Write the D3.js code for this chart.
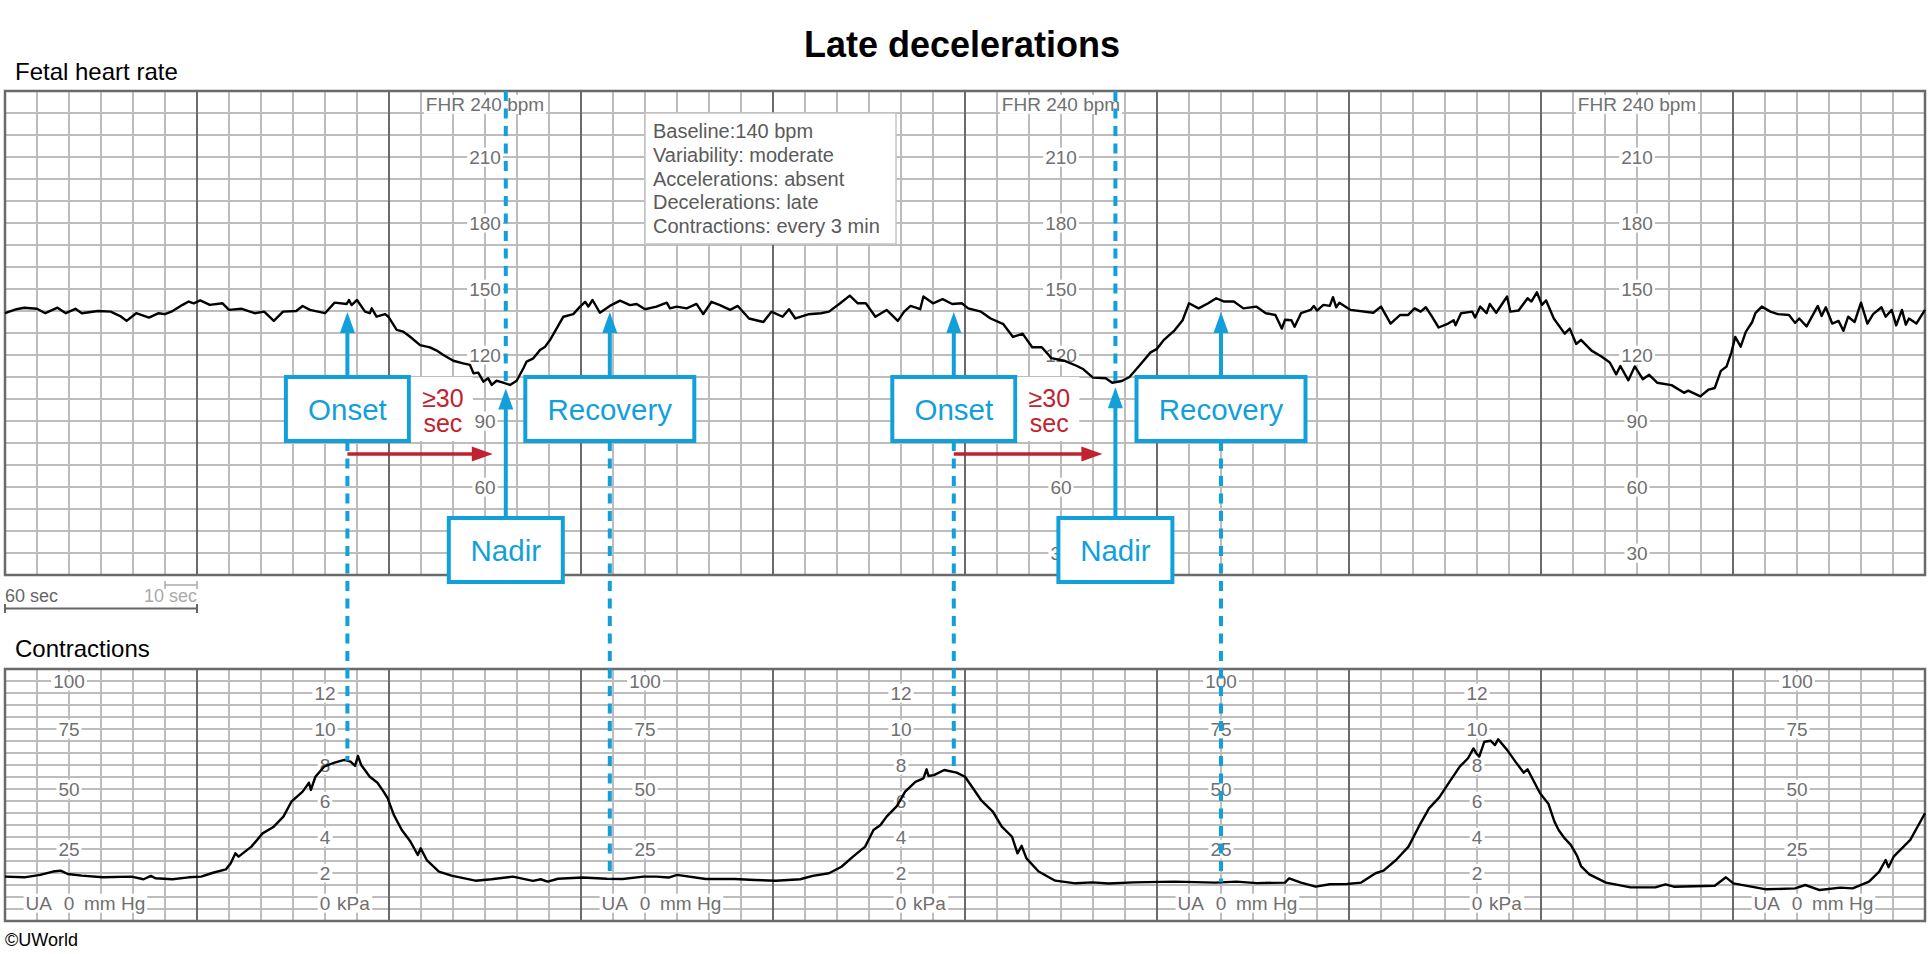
<!DOCTYPE html>
<html>
<head>
<meta charset="utf-8">
<script src="https://cdn.jsdelivr.net/npm/d3@7"></script>
<style>
  body { margin: 0; background: #fff; }
  text { font-family: "Liberation Sans", Arial, Helvetica, sans-serif; }
</style>
</head>
<body>
<div id="chart"></div>
<script>
// ---- data (time in seconds from the left edge) ----
const fhrSec = [0, 3.6, 6, 10, 12.6, 16.4, 19, 22, 24, 29, 33, 36, 38, 41, 45, 48, 50, 52, 55.5, 57.4, 59, 61, 64, 68, 70, 74, 78, 81, 84, 86.9,
  91, 93, 95.3, 100, 103, 106.8, 107.5, 108.3, 110, 112.5, 114, 114.6, 116.1, 118.8, 119.8, 122.4, 124.5, 126.6, 129.7, 132.8, 134.9, 137,
  140.1, 143.2, 145.3, 146.4, 147.9, 149.5, 151, 152.1, 153.6, 155.7, 157.8, 159.9, 162, 163, 165.1, 167.2, 168.8, 170.3, 172.4, 174.5,
  177.6, 179.7, 181.3, 182.3, 183.6, 185.9, 189, 192.2, 195.3, 197.4, 200, 203.6, 206.8, 207.8, 209.9, 213, 216.1, 218.2, 220.8, 223.4,
  226.6, 229, 232.5, 237, 239.5, 243, 245, 247, 251, 255, 257.5, 261, 264, 266.5, 269, 272, 275.5, 279, 281, 283, 286, 287, 290, 293,
  296, 299, 301, 305, 308, 312, 315, 318, 321, 324, 327, 331, 335, 337, 340, 344, 346, 349, 351.4, 354, 358, 360, 362, 365.5, 368, 370,
  373, 376, 378.5, 381, 384, 387, 391, 394, 397, 399, 400, 402, 403, 405, 408, 409, 410, 412, 414, 415, 416, 417, 420.5, 427.6, 430, 433,
  436, 438.5, 440.5, 442.4, 444, 445.6, 448, 451, 452.7, 453.3, 455, 458.5, 459.4, 461, 463, 464, 466, 469.4, 470.4, 473, 475.8, 477,
  478.7, 480.3, 481.6, 484, 487.4, 489, 491, 492.5, 495.8, 499, 501.5, 503.5, 504.8, 507.3, 509.3, 511.8, 513.8, 516.3, 520.8, 524.7, 526,
  529.8, 532.4, 534.3, 536.2, 538, 539.5, 540.7, 542.4, 544, 546, 547, 549, 551.7, 554, 557.5, 559.4, 560.7, 563, 566.5, 567.7, 569, 571,
  573, 574.5, 576, 578, 580, 582, 583.8, 586.4, 587.7, 589.6, 591, 592.8, 594, 595, 597.3, 600];
const fhrBpm = [139, 140.8, 141.5, 141, 139, 141.5, 139, 141, 139, 140, 139.7, 137.7, 135.5, 139, 137, 139, 138.6, 139.7, 142.8, 144.3, 143.5,
  144.8, 142.8, 143.5, 140.5, 141, 139, 139.7, 135.5, 139.7, 140, 142.3, 140.5, 139, 143.8, 143.2, 145, 142.7, 145, 139.7, 139, 141.2,
  137.4, 138.6, 137.4, 131.4, 130.6, 128.3, 124.5, 123.5, 122, 120, 117.4, 116.2, 115.5, 111.7, 112, 107.9, 109.4, 106.4, 108.3, 107.4,
  106.4, 108.3, 114, 117, 118.5, 122.3, 123.8, 126.8, 132.1, 137.4, 138.6, 142, 144.2, 142, 145, 139.2, 142.3, 144.7, 142.7, 143.2, 140.8,
  142, 143.8, 141.2, 142, 141.2, 143.2, 138.6, 144.2, 142.7, 140.5, 142.3, 136.6, 135, 139.7, 137.4, 140.8, 136.6, 138.5, 139, 139.7,
  143.5, 147, 143.5, 143.5, 137.4, 140.5, 135.5, 139.7, 142.3, 140.8, 146.6, 143.5, 145.4, 143.2, 143.5, 141.2, 139.7, 136.6, 134, 128.2,
  129.7, 123.5, 123.5, 118.6, 117.4, 115, 113.5, 109.7, 109.4, 107.4, 108.2, 110, 114.3, 121.2, 122.8, 126.6, 131.2, 135.8, 143.5, 141.2,
  143.5, 145.8, 144.3, 144.3, 141.2, 142, 139, 138.2, 132, 136, 135.8, 132.8, 139, 140.5, 142.3, 140.2, 142.8, 142.3, 146.3, 141.7, 143.8,
  140.5, 139.2, 142, 134.3, 138.2, 138.2, 141.2, 139.7, 141.7, 138.2, 132.5, 134.3, 135.8, 133.5, 139, 139.7, 137, 142, 139, 143.2, 139.2,
  146.6, 139.7, 140.2, 145.8, 144.3, 148.5, 142.8, 144.8, 136.6, 129.7, 132, 125, 126.9, 122, 119.2, 116.6, 111.2, 115, 108.5, 114.8, 109,
  111, 107.4, 106.3, 102.8, 103.8, 101.2, 104.3, 105, 112.8, 114.8, 121.2, 128.2, 123.8, 130.5, 135, 139, 142, 139.7, 138.6, 138.2, 134.6,
  136.6, 133, 142.3, 137.7, 141.7, 134.3, 135.5, 131, 137.4, 135, 143.8, 134.3, 138.6, 141.7, 137.4, 140.5, 133.5, 140.5, 133.8, 136.6,
  134.3, 140.5];

const uaSec = [0, 6, 11, 15, 17.4, 19.6, 24, 30.5, 39.5, 43.3, 45.6, 47, 52.3, 57.4, 61.3, 65, 69, 70.5, 72, 73, 77, 80.5, 84, 87, 89.5, 93,
  95, 95.6, 97, 99.7, 103, 106, 108, 109.4, 110.3, 111.3, 114, 116.4, 118.3, 119.6, 121.5, 124, 126.7, 129, 129.9, 131.8, 135.6, 139.5,
  147, 152, 158.7, 165, 167.4, 169.6, 172.8, 180.5, 188, 193, 199.5, 203.5, 207.4, 210, 219, 228, 234.4, 240.8, 248.5, 252.4, 257.5, 261.4,
  265, 268.8, 271.4, 273.6, 275.5, 278.7, 281.3, 284.5, 287, 288, 288.6, 290.3, 293.5, 297.4, 300, 302.5, 305, 308.7, 311.5, 314.7, 316.4,
  317.7, 319.2, 323, 328.2, 334.6, 339.8, 344.9, 352.6, 365.5, 378.3, 384.8, 391.2, 400, 401.3, 405, 409.6, 414, 419.3, 423.8, 428.3,
  430.8, 434.7, 438.6, 441.8, 445, 448.2, 451.4, 454.6, 457.2, 458.9, 459.8, 460.7, 462.3, 464.3, 465.6, 466.6, 469.4, 472, 474.6, 475.8,
  477.1, 479.7, 482.3, 484.2, 485.5, 487.4, 489.3, 491.3, 492.5, 495.1, 500.3, 508, 515.7, 518.9, 521.5, 534.3, 537.8, 540.1, 550.4, 559.4,
  562.6, 567.1, 573.5, 577.4, 582.5, 585.7, 587.7, 588.6, 590.2, 595.4, 600];
const uaMmHg = [13.5, 13.2, 14.2, 15.6, 16, 14.6, 13.9, 13.2, 13.5, 12.4, 13.8, 12.8, 12.4, 13.2, 13.5, 15.1, 16.5, 19, 23.2, 21.8, 26, 31.5,
  34.3, 38.5, 44.7, 48.9, 52.6, 49.6, 55.1, 59.3, 61, 62.1, 61.4, 59.6, 63.8, 60, 55.1, 52.6, 48.9, 46.1, 39.2, 32.9, 28.1, 22.5, 25.3,
  20.4, 15.6, 13.9, 11.8, 12.4, 13.5, 11.7, 12.4, 11.4, 12.6, 13.1, 12.6, 12.5, 13.5, 13.5, 13.1, 14.2, 12.5, 12.5, 12.1, 11.8, 12.4, 13.8,
  14.9, 17.6, 21.8, 26, 32.9, 35, 38.5, 42.9, 48.9, 53, 54.4, 58.2, 55.4, 55.8, 57.9, 56.8, 55.1, 50.3, 45.4, 40.6, 34.3, 30.1, 23.2,
  26.3, 21.1, 15.6, 11.8, 10.7, 11.1, 10.6, 11.1, 11.4, 11, 11.4, 10.8, 11, 12.8, 11, 9.3, 10.3, 10.4, 11, 14.9, 16, 20.4, 26, 34.3, 41.9,
  46.5, 53, 59.3, 62.8, 66.9, 64.8, 63.5, 69.7, 70.1, 68.3, 70.7, 66.3, 61.4, 56.8, 58.2, 54.9, 48.2, 43.9, 36.4, 32.9, 29.4, 26.7, 22.1,
  17.9, 14.4, 11, 9, 9, 10.3, 9.3, 9.7, 13.2, 10.7, 8.2, 8.6, 10, 7.9, 8.9, 8.6, 11.4, 15.6, 20.4, 17.4, 21.8, 28.8, 39.9];

// tick labels and where along the strip they are printed
const fhrTickLabels = [210, 180, 150, 120, 90, 60, 30];
const fhrLabelSec = [150, 330, 510];
const mmHgTickLabels = [100, 75, 50, 25];
const mmHgLabelSec = [20, 200, 380, 560];
const kPaTickLabels = [12, 10, 8, 6, 4, 2];
const kPaLabelSec = [100, 280, 460];

// annotated decelerations
const onsetSec = [107, 296.5];
const nadirSec = [156.5, 347];
const recoverySec = [189, 380];

const summaryLines = ["Baseline:140 bpm", "Variability: moderate", "Accelerations: absent",
  "Decelerations: late", "Contractions: every 3 min"];

// ---- layout ----
const WIDTH = 1930, HEIGHT = 954;
const LEFT = 5, RIGHT = 1925;
const FHR_TOP = 91, FHR_BOTTOM = 575;
const UA_TOP = 669, UA_BOTTOM = 921;
const BLUE = "#12a0db", RED = "#c1222f";
const MINOR = "#bdbdbd", MAJOR = "#6a6a6a", LABEL = "#707070";

const svg = d3.select("#chart").append("svg")
  .attr("width", WIDTH).attr("height", HEIGHT);

const x = d3.scaleLinear().domain([0, 600]).range([LEFT, RIGHT]);
const yF = d3.scaleLinear().domain([20, 240]).range([FHR_BOTTOM, FHR_TOP]);
const yU = d3.scaleLinear().domain([-5, 100]).range([UA_BOTTOM, UA_TOP]);

const fhr = fhrSec.map((t, i) => ({ t, v: fhrBpm[i] }));
const ua = uaSec.map((t, i) => ({ t, v: uaMmHg[i] }));

function valueAt(data, t) {
  const i = d3.bisector(d => d.t).left(data, t);
  if (i <= 0) return data[0].v;
  if (i >= data.length) return data[data.length - 1].v;
  const a = data[i - 1], b = data[i];
  return a.v + (b.v - a.v) * (t - a.t) / (b.t - a.t);
}

// ---- paper grid ----
function drawGrid(yScale, hValues, top, bottom) {
  const g = svg.append("g");
  const secs = d3.range(0, 601, 10);
  g.selectAll("line.h").data(hValues).join("line")
    .attr("x1", LEFT).attr("x2", RIGHT)
    .attr("y1", d => yScale(d)).attr("y2", d => yScale(d))
    .attr("stroke", MINOR).attr("stroke-width", 2);
  g.selectAll("line.vmin").data(secs.filter(s => s % 60 !== 0)).join("line")
    .attr("x1", d => x(d)).attr("x2", d => x(d))
    .attr("y1", top).attr("y2", bottom)
    .attr("stroke", MINOR).attr("stroke-width", 2);
  g.selectAll("line.vmaj").data(secs.filter(s => s % 60 === 0)).join("line")
    .attr("x1", d => x(d)).attr("x2", d => x(d))
    .attr("y1", top).attr("y2", bottom)
    .attr("stroke", MAJOR).attr("stroke-width", 2);
  g.append("rect")
    .attr("x", LEFT).attr("y", top)
    .attr("width", RIGHT - LEFT).attr("height", bottom - top)
    .attr("fill", "none").attr("stroke", MAJOR).attr("stroke-width", 2.5);
}
drawGrid(yF, d3.range(20, 241, 10), FHR_TOP, FHR_BOTTOM);
drawGrid(yU, d3.range(-5, 101, 5), UA_TOP, UA_BOTTOM);

// labels printed on the paper, with a white patch behind
function paperLabel(parts, cy, size, color) {
  const g = svg.append("g");
  parts.forEach(p => {
    g.append("text")
      .attr("x", p.x).attr("y", cy).attr("dy", "0.35em")
      .attr("text-anchor", p.anchor || "middle")
      .attr("font-size", size).attr("fill", color)
      .text(p.text);
  });
  const bb = g.node().getBBox();
  g.insert("rect", "text")
    .attr("x", bb.x - 2).attr("y", bb.y + 1)
    .attr("width", bb.width + 4).attr("height", bb.height - 2)
    .attr("fill", "#fff");
}

fhrLabelSec.forEach(s => {
  paperLabel([{ x: x(s), text: "FHR 240 bpm" }], yF(234), 19, LABEL);
  fhrTickLabels.forEach(v => paperLabel([{ x: x(s), text: v }], yF(v), 19, LABEL));
});
mmHgLabelSec.forEach(s => {
  mmHgTickLabels.forEach(v => paperLabel([{ x: x(s), text: v }], yU(v === 100 ? 95 : v), 19, LABEL));
  paperLabel([
    { x: x(s) - 17, text: "UA", anchor: "end" },
    { x: x(s), text: "0" },
    { x: x(s) + 15, text: "mm Hg", anchor: "start" }
  ], yU(2.5), 19, LABEL);
});
kPaLabelSec.forEach(s => {
  kPaTickLabels.forEach(v => paperLabel([{ x: x(s), text: v }], yU(v * 7.5), 19, LABEL));
  paperLabel([
    { x: x(s), text: "0" },
    { x: x(s) + 12, text: "kPa", anchor: "start" }
  ], yU(2.5), 19, LABEL);
});

// summary box
svg.append("rect")
  .attr("x", 645).attr("y", 113).attr("width", 251).attr("height", 131)
  .attr("fill", "#fff").attr("stroke", "#c4c4c4").attr("stroke-width", 1.5);
svg.selectAll("text.summary").data(summaryLines).join("text")
  .attr("class", "summary")
  .attr("x", 653).attr("y", (d, i) => 138 + i * 23.8)
  .attr("font-size", 20).attr("fill", "#5a5a5a")
  .text(d => d);

// ---- traces ----
svg.append("path").datum(fhr)
  .attr("d", d3.line().x(d => x(d.t)).y(d => yF(d.v)))
  .attr("fill", "none").attr("stroke", "#000").attr("stroke-width", 2.4)
  .attr("stroke-linejoin", "round");
svg.append("path").datum(ua)
  .attr("d", d3.line().x(d => x(d.t)).y(d => yU(d.v)))
  .attr("fill", "none").attr("stroke", "#000").attr("stroke-width", 2.4)
  .attr("stroke-linejoin", "round");

// ---- annotations ----
const UPPER_BOX = { top: 377, bottom: 441 };
const NADIR_BOX = { top: 518, bottom: 582 };
const UPPER_TIP = 312;

function dashed(x0, y1, y2) {
  svg.append("line")
    .attr("x1", x0).attr("x2", x0).attr("y1", y1).attr("y2", y2)
    .attr("stroke", BLUE).attr("stroke-width", 4).attr("stroke-dasharray", "10,7.5");
}
function upArrow(x0, tip, from) {
  svg.append("line")
    .attr("x1", x0).attr("x2", x0).attr("y1", from).attr("y2", tip + 18)
    .attr("stroke", BLUE).attr("stroke-width", 4);
  svg.append("path")
    .attr("d", `M${x0},${tip} L${x0 + 7.5},${tip + 21} L${x0 - 7.5},${tip + 21} Z`)
    .attr("fill", BLUE);
}
function labelBox(cx, w, box, txt) {
  svg.append("rect")
    .attr("x", cx - w / 2).attr("y", box.top)
    .attr("width", w).attr("height", box.bottom - box.top)
    .attr("fill", "#fff").attr("stroke", BLUE).attr("stroke-width", 4);
  svg.append("text")
    .attr("x", cx).attr("y", (box.top + box.bottom) / 2).attr("dy", "0.36em")
    .attr("text-anchor", "middle").attr("font-size", 29.5).attr("fill", BLUE)
    .text(txt);
}

onsetSec.forEach((s, i) => {
  const ox = x(s), nx = x(nadirSec[i]), rx = x(recoverySec[i]);

  // dashed guides
  dashed(ox, UPPER_BOX.bottom, yU(valueAt(ua, s)));
  dashed(rx, UPPER_BOX.bottom, yU(valueAt(ua, recoverySec[i])));
  const nadirY = yF(valueAt(fhr, nadirSec[i]));
  dashed(nx, FHR_TOP, nadirY);

  // arrows
  upArrow(ox, UPPER_TIP, UPPER_BOX.top);
  upArrow(rx, UPPER_TIP, UPPER_BOX.top);
  upArrow(nx, nadirY + 5, NADIR_BOX.top);

  // boxes
  labelBox(ox, 123, UPPER_BOX, "Onset");
  labelBox(rx, 169, UPPER_BOX, "Recovery");
  labelBox(nx, 114, NADIR_BOX, "Nadir");

  // ≥30 sec lag
  const tx = ox + 61.5 + 34;
  svg.append("rect")
    .attr("x", ox + 63.5).attr("y", UPPER_BOX.top)
    .attr("width", 62).attr("height", UPPER_BOX.bottom - UPPER_BOX.top)
    .attr("fill", "#fff");
  svg.append("text")
    .attr("x", tx).attr("y", 407).attr("text-anchor", "middle")
    .attr("font-size", 25).attr("fill", RED).text("\u226530");
  svg.append("text")
    .attr("x", tx).attr("y", 432).attr("text-anchor", "middle")
    .attr("font-size", 25).attr("fill", RED).text("sec");
  const tip = nx - 13, ay = 454;
  svg.append("line")
    .attr("x1", ox).attr("x2", tip - 18).attr("y1", ay).attr("y2", ay)
    .attr("stroke", RED).attr("stroke-width", 3.5);
  svg.append("path")
    .attr("d", `M${tip},${ay} L${tip - 21},${ay - 7.5} L${tip - 21},${ay + 7.5} Z`)
    .attr("fill", RED);
});

// ---- titles and scale ----
svg.append("text")
  .attr("x", 962).attr("y", 57).attr("text-anchor", "middle")
  .attr("font-size", 36).attr("font-weight", "bold").attr("fill", "#000")
  .text("Late decelerations");
svg.append("text")
  .attr("x", 15).attr("y", 80).attr("font-size", 24).attr("fill", "#000")
  .text("Fetal heart rate");
svg.append("text")
  .attr("x", 15).attr("y", 657).attr("font-size", 24).attr("fill", "#000")
  .text("Contractions");
svg.append("text")
  .attr("x", 5).attr("y", 946).attr("font-size", 18).attr("fill", "#000")
  .text("\u00A9UWorld");

// time scale bar: 60 sec and 10 sec
const bar = svg.append("g");
bar.append("text").attr("x", x(0)).attr("y", 602)
  .attr("font-size", 18).attr("fill", "#666").text("60 sec");
bar.append("text").attr("x", x(60)).attr("y", 602).attr("text-anchor", "end")
  .attr("font-size", 18).attr("fill", "#aaa").text("10 sec");
bar.append("path")
  .attr("d", `M${x(0)},604 V613 M${x(0)},608.5 H${x(60)} M${x(60)},604 V613`)
  .attr("fill", "none").attr("stroke", "#666").attr("stroke-width", 2);
bar.append("path")
  .attr("d", `M${x(50)},581 V589 M${x(50)},585 H${x(60)} M${x(60)},581 V589`)
  .attr("fill", "none").attr("stroke", "#aaa").attr("stroke-width", 1.5);
</script>
</body>
</html>
